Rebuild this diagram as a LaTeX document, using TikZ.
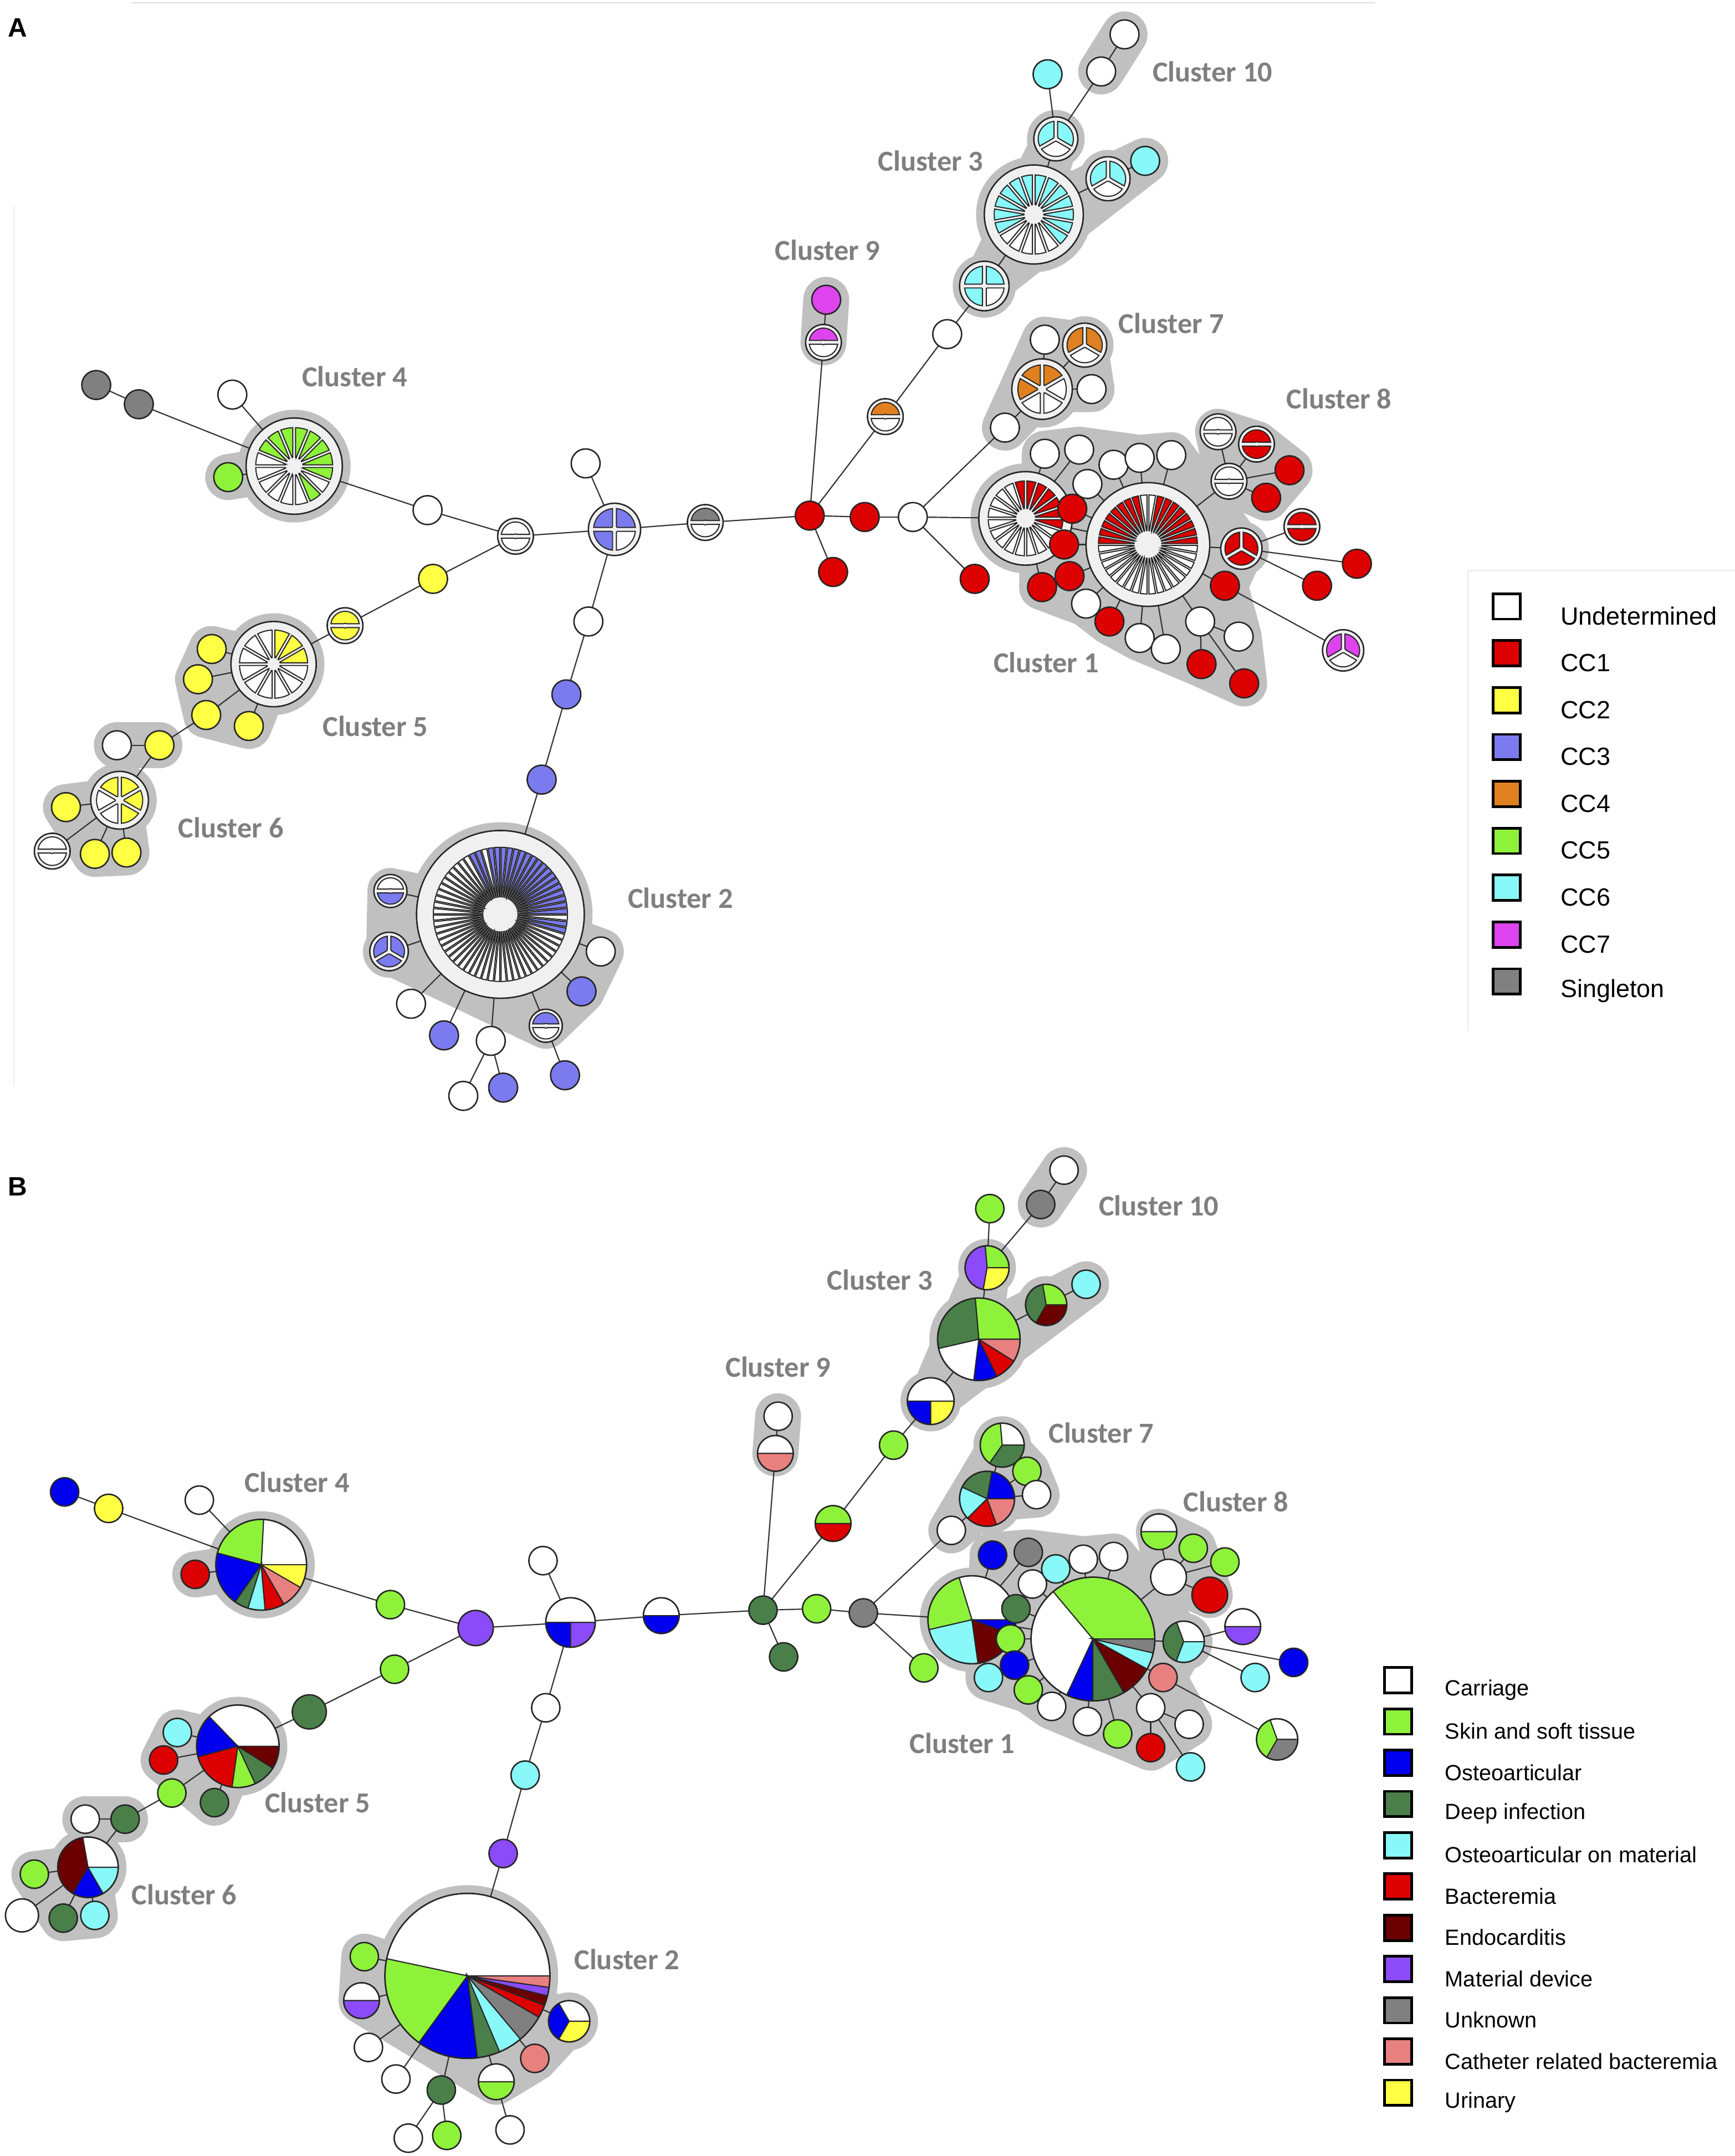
\documentclass[tikz,border=0pt]{standalone}
\usepackage{fontspec}
\newfontfamily\labfont{Carlito}
\newfontfamily\legfont{Liberation Sans}
\usetikzlibrary{calc}

% colours, panel A (clonal complexes)
\definecolor{cc1}{RGB}{221,0,0}
\definecolor{cc2}{RGB}{255,255,68}
\definecolor{cc3}{RGB}{123,123,239}
\definecolor{cc4}{RGB}{224,128,32}
\definecolor{cc5}{RGB}{142,242,58}
\definecolor{cc6}{RGB}{136,248,248}
\definecolor{cc7}{RGB}{221,68,238}
\definecolor{cc8}{RGB}{128,128,128}
% colours, panel B (clinical origin)
\definecolor{skin}{RGB}{142,242,58}
\definecolor{osteo}{RGB}{0,0,238}
\definecolor{deep}{RGB}{74,127,74}
\definecolor{omat}{RGB}{136,248,248}
\definecolor{bact}{RGB}{221,0,0}
\definecolor{endo}{RGB}{107,0,0}
\definecolor{mdev}{RGB}{139,75,248}
\definecolor{unkn}{RGB}{128,128,128}
\definecolor{cath}{RGB}{232,128,128}
\definecolor{urin}{RGB}{255,255,68}
% greys
\definecolor{haloc}{RGB}{192,192,192}
\definecolor{ringc}{RGB}{240,240,240}
\definecolor{labgray}{RGB}{127,127,127}

\tikzset{
    nodeline/.style={draw=black!85,line width=0.6pt},
    secline/.style={draw=black!85,line width=0.45pt},
    link/.style={draw=black!80,line width=0.5pt},
    halo/.style={draw=haloc,fill=haloc,line width=19pt,line join=round,line cap=round},
    clab/.style={font={\labfont\bfseries\fontsize{12}{14}\selectfont},text=labgray},
    legtext/.style={font={\legfont\fontsize{9.1}{11}\selectfont},anchor=west},
    legtextA/.style={font={\legfont\fontsize{10.3}{12}\selectfont},anchor=west},
    legbox/.style={draw=black,line width=1.1pt,minimum width=3.9mm,minimum height=3.7mm,inner sep=0pt}
}

% #1 centre, #2 radius, #3 start angle, #4 half gap, #5 hub, #6 colours (clockwise)
\newcommand{\cwheel}[6]{%
    \filldraw[fill=ringc,nodeline] (#1) circle (#2);
    \foreach \cl [count=\k] in {#6} {\xdef\nsec{\k}}
    \begin{scope}[shift={(#1)}]
    \foreach \cl [count=\k] in {#6} {
        \pgfmathsetmacro{\wsp}{360/\nsec}
        \pgfmathsetmacro{\aL}{#3-\k*\wsp}
        \pgfmathsetmacro{\aH}{\aL+\wsp}
        \pgfmathsetmacro{\Ro}{0.8*#2}
        \pgfmathsetmacro{\Ri}{max(#5,1.25*#4/sin(\wsp/2))}
        \pgfmathsetmacro{\dO}{asin(#4/\Ro)}
        \pgfmathsetmacro{\dI}{asin(#4/\Ri)}
        \pgfmathsetmacro{\pA}{\aL+\dI}
        \pgfmathsetmacro{\pB}{\aL+\dO}
        \pgfmathsetmacro{\pC}{\aH-\dO}
        \pgfmathsetmacro{\pD}{\aH-\dI}
        \filldraw[fill=\cl,secline] (\pA:\Ri) -- (\pB:\Ro)
            arc[start angle=\pB,end angle=\pC,radius=\Ro] -- (\pD:\Ri)
            arc[start angle=\pD,end angle=\pA,radius=\Ri] -- cycle;
    }
    \end{scope}}

% #1 centre, #2 radius, #3 colour/from/to
\newcommand{\piechart}[3]{%
    \begin{scope}[shift={(#1)}]
    \foreach \cl/\angA/\angB in {#3} {
        \filldraw[fill=\cl,secline] (0,0) -- (\angA:#2)
            arc[start angle=\angA,end angle=\angB,radius=#2] -- cycle;
    }
    \draw[nodeline] (0,0) circle (#2);
    \end{scope}}

\begin{document}
\begin{tikzpicture}[x=0.2mm,y=0.2mm]
    \fill[white] (0,0) rectangle (1262,-1568);
    \useasboundingbox (0,0) rectangle (1262,-1568);
    \draw[black!12,line width=0.6pt] (95,-2) -- (1000,-2);
    \draw[black!7,line width=0.6pt] (10,-150) -- (10,-790);

    %%%%%%%%%%%%%%%% panel A
    \node[font={\legfont\bfseries\fontsize{11}{13}\selectfont}] (labA) at (13,-20) {A};

    % positions
    \coordinate (aS1) at (70,-280);   \coordinate (aS2) at (101,-294);
    \coordinate (aC4) at (214,-339);  \coordinate (aC4g) at (166,-347);
    \coordinate (aC4w) at (169,-287); \coordinate (aW1) at (311,-371);
    \coordinate (aH1) at (375,-390);  \coordinate (aY1) at (315,-421);
    \coordinate (aH2) at (251,-455);  \coordinate (aC5) at (199,-483);
    \coordinate (aC5a) at (154,-472); \coordinate (aC5b) at (144,-494);
    \coordinate (aC5c) at (150,-520); \coordinate (aC5d) at (181,-528);
    \coordinate (aC6y) at (116,-542); \coordinate (aC6w) at (85,-542);
    \coordinate (aC6) at (87,-582);   \coordinate (aC6a) at (48,-587);
    \coordinate (aC6h) at (38,-619);  \coordinate (aC6b) at (69,-621);
    \coordinate (aC6c) at (92,-620);
    \coordinate (aQ) at (447,-385);   \coordinate (aQu) at (426,-337);
    \coordinate (aQd) at (428,-452);  \coordinate (aB1) at (412,-505);
    \coordinate (aB2) at (394,-567);
    \coordinate (aC2) at (364,-665);  \coordinate (aC2a) at (284,-648);
    \coordinate (aC2b) at (283,-692); \coordinate (aC2c) at (299,-730);
    \coordinate (aC2d) at (323,-753); \coordinate (aC2e) at (357,-757);
    \coordinate (aC2f) at (337,-797); \coordinate (aC2g) at (366,-791);
    \coordinate (aC2h) at (397,-746); \coordinate (aC2i) at (411,-782);
    \coordinate (aC2j) at (423,-721); \coordinate (aC2k) at (437,-692);
    \coordinate (aG) at (513,-380);   \coordinate (aR1) at (589,-375);
    \coordinate (aR2) at (606,-416);  \coordinate (aR3) at (629,-376);
    \coordinate (aJ) at (664,-376);   \coordinate (aR4) at (709,-421);
    \coordinate (aC9h) at (599,-249); \coordinate (aC9m) at (601,-218);
    \coordinate (aO) at (644,-303);   \coordinate (aW2) at (689,-243);
    \coordinate (aC3a) at (716,-208); \coordinate (aC3) at (752,-156);
    \coordinate (aC3b) at (768,-101); \coordinate (aC3c) at (806,-130);
    \coordinate (aC3d) at (833,-117); \coordinate (aC3e) at (762,-54);
    \coordinate (aC10a) at (801,-52); \coordinate (aC10b) at (818,-25);
    \coordinate (aC7w) at (731,-311); \coordinate (aC7) at (758,-283);
    \coordinate (aC7a) at (760,-247); \coordinate (aC7b) at (789,-251);
    \coordinate (aC7c) at (794,-283);
    \coordinate (aC1) at (746,-377);  \coordinate (aC1b) at (835,-396);
    \coordinate (aT1) at (760,-330);  \coordinate (aT2) at (785,-327);
    \coordinate (aT3) at (810,-338);  \coordinate (aT4) at (791,-352);
    \coordinate (aT5) at (829,-333);  \coordinate (aT6) at (852,-331);
    \coordinate (aM1) at (780,-370);  \coordinate (aM2) at (774,-396);
    \coordinate (aM3) at (778,-419);  \coordinate (aM4) at (758,-427);
    \coordinate (aL1) at (790,-439);  \coordinate (aL2) at (807,-452);
    \coordinate (aL3) at (829,-464);  \coordinate (aL4) at (848,-472);
    \coordinate (aL5) at (873,-452);  \coordinate (aL6) at (901,-463);
    \coordinate (aL7) at (874,-483);  \coordinate (aL8) at (905,-497);
    \coordinate (aP1) at (891,-426);  \coordinate (aP2) at (977,-473);
    \coordinate (aK) at (903,-399);   \coordinate (aK1) at (947,-383);
    \coordinate (aK2) at (987,-410);  \coordinate (aK3) at (958,-426);
    \coordinate (aE1) at (886,-314);  \coordinate (aE2) at (914,-323);
    \coordinate (aE3) at (894,-350);  \coordinate (aE4) at (938,-342);
    \coordinate (aE5) at (921,-362);

    % cluster shading
    \foreach \n/\r in {aC4/41,aC5/37,aC6/27,aC2/67,aC3/42,aC3a/23,aC3b/21,aC3c/21,
        aC7/28,aC7b/21,aC1/40,aC1b/51,aK/20,aC2b/19}
        \fill[haloc] (\n) circle (\r);
    \draw[halo] (aC4g) -- (aC4);
    \filldraw[halo] (aC5a) -- (aC5) -- (aC5d) -- (aC5c) -- (aC5b) -- cycle;
    \draw[halo] (aC6w) -- (aC6y);
    \filldraw[halo] (aC6a) -- (aC6) -- (aC6c) -- (aC6b) -- cycle;
    \filldraw[halo] (aC2a) -- (aC2) -- (aC2k) -- (aC2j) -- (aC2h) -- (aC2b) -- cycle;
    \filldraw[halo] (aC3a) -- (aC3b) -- (aC3) -- (aC3d) -- cycle;
    \draw[halo] (aC10a) -- (aC10b);
    \draw[halo] (aC9m) -- (aC9h);
    \filldraw[halo] (aC7w) -- (aC7a) -- (aC7b) -- (aC7c) -- (aC7) -- cycle;
    \filldraw[halo] (aE1) -- (aE2) -- (aE4) -- (aE5) -- (aE3) -- cycle;
    \filldraw[halo] (aT1) -- (aT2) -- (aT5) -- (aT6) -- (aK) -- (aP1) -- (aL6) -- (aL8)
        -- (aL7) -- (aL4) -- (aL3) -- (aL2) -- (aL1) -- (aM4) -- cycle;

    % links
    \foreach \u/\v in {aS1/aS2,aS2/aC4,aC4w/aC4,aC4g/aC4,aC4/aW1,aW1/aH1,aH1/aY1,aY1/aH2,
        aH2/aC5,aC5/aC5a,aC5/aC5b,aC5/aC5c,aC5/aC5d,aC5c/aC6y,aC6y/aC6w,aC6y/aC6,
        aC6/aC6a,aC6/aC6h,aC6/aC6b,aC6/aC6c,aH1/aQ,aQ/aQu,aQ/aQd,aQd/aB1,aB1/aB2,aB2/aC2,
        aC2/aC2a,aC2/aC2b,aC2/aC2c,aC2/aC2d,aC2/aC2e,aC2/aC2h,aC2/aC2j,aC2/aC2k,
        aC2e/aC2f,aC2e/aC2g,aC2h/aC2i,aQ/aG,aG/aR1,aR1/aR2,aR1/aR3,aR1/aC9h,aC9h/aC9m,
        aR1/aO,aO/aW2,aW2/aC3a,aC3a/aC3,aC3/aC3b,aC3/aC3c,aC3c/aC3d,aC3b/aC3e,aC3b/aC10a,
        aC10a/aC10b,aR3/aJ,aJ/aC1,aJ/aC7w,aJ/aR4,aC7w/aC7,aC7/aC7a,aC7/aC7b,aC7/aC7c,
        aC1/aC1b,aC1/aT1,aC1/aT2,aC1/aM4,aC1b/aT3,aC1b/aT4,aC1b/aT5,aC1b/aT6,aC1b/aM1,
        aC1b/aM2,aC1b/aM3,aC1b/aL1,aC1b/aL2,aC1b/aL3,aC1b/aL4,aC1b/aL5,aC1b/aP1,aC1b/aK,
        aC1b/aE3,aL5/aL6,aL5/aL7,aL5/aL8,aP1/aP2,aK/aK1,aK/aK2,aK/aK3,aE3/aE1,aE3/aE2,
        aE3/aE4,aE3/aE5}
        \draw[link] (\u) -- (\v);

    % types
    \cwheel{aC4}{35}{90}{1}{2}{cc5,cc5,cc5,cc5,cc5,white,cc5,white,white,white,white,white,white,cc5,cc5,cc5}
    \cwheel{aC5}{31}{90}{1}{2}{cc2,cc2,cc2,white,white,white,white,white,white,white,white,white}
    \cwheel{aC6}{21}{90}{1.3}{0}{cc2,cc2,cc2,white,white,cc2}
    \cwheel{aC2}{61}{90}{0.5}{12}{cc3,cc3,cc3,cc3,cc3,cc3,cc3,cc3,cc3,cc3,cc3,cc3,cc3,cc3,cc3,cc3,
        white,cc3,cc3,white,white,white,white,white,white,white,white,white,white,
        white,white,white,white,white,white,white,white,white,white,white,white,white,white,white,
        white,white,white,white,white,white,white,white,white,white,white,white,white,white,white,
        cc3,cc3,white,cc3,cc3}
    \cwheel{aC3}{36}{90}{1}{2}{cc6,cc6,cc6,cc6,cc6,cc6,cc6,white,white,white,white,white,cc6,cc6,cc6,cc6,cc6,cc6}
    \cwheel{aC1}{34}{90}{0.9}{2}{cc1,cc1,cc1,cc1,cc1,cc1,white,white,white,white,white,white,white,
        white,white,white,white,white,white,cc1}
    \cwheel{aC1b}{45}{180}{0.7}{2}{cc1,cc1,cc1,cc1,cc1,cc1,cc1,cc1,white,white,cc1,cc1,cc1,cc1,cc1,cc1,cc1,cc1,
        white,white,white,white,white,white,white,white,white,white,white,white,white,white,white,white,white,white}
    \cwheel{aH1}{13}{180}{1.4}{0}{white,white}
    \cwheel{aH2}{13}{180}{1.4}{0}{cc2,cc2}
    \cwheel{aC6h}{13}{180}{1.4}{0}{white,white}
    \cwheel{aQ}{19}{90}{1.4}{0}{cc3,white,cc3,cc3}
    \cwheel{aC2a}{12}{180}{1.4}{0}{white,cc3}
    \cwheel{aC2b}{14}{90}{1.3}{0}{cc3,cc3,cc3}
    \cwheel{aC2h}{12}{180}{1.4}{0}{cc3,white}
    \cwheel{aG}{13}{180}{1.4}{0}{cc8,white}
    \cwheel{aC9h}{13}{180}{1.4}{0}{cc7,white}
    \cwheel{aO}{13}{180}{1.4}{0}{cc4,white}
    \cwheel{aC3a}{18}{90}{1.4}{0}{cc6,white,cc6,cc6}
    \cwheel{aC3b}{16}{90}{1.3}{0}{cc6,white,cc6}
    \cwheel{aC3c}{16}{90}{1.3}{0}{cc6,white,cc6}
    \cwheel{aC7}{22}{90}{1.3}{0}{cc4,white,white,white,cc4,cc4}
    \cwheel{aC7b}{16}{90}{1.3}{0}{cc4,white,cc4}
    \cwheel{aP2}{15}{90}{1.3}{0}{cc7,white,cc7}
    \cwheel{aK}{15}{90}{1.3}{0}{cc1,cc1,cc1}
    \cwheel{aK1}{13}{180}{1.4}{0}{cc1,cc1}
    \cwheel{aE1}{13}{180}{1.4}{0}{white,white}
    \cwheel{aE2}{13}{180}{1.4}{0}{cc1,cc1}
    \cwheel{aE3}{13}{180}{1.4}{0}{white,white}
    \foreach \n/\cl in {aS1/cc8,aS2/cc8,aC4g/cc5,aC4w/white,aW1/white,aY1/cc2,aC5a/cc2,aC5b/cc2,
        aC5c/cc2,aC5d/cc2,aC6y/cc2,aC6w/white,aC6a/cc2,aC6b/cc2,aC6c/cc2,aQu/white,aQd/white,
        aB1/cc3,aB2/cc3,aC2c/white,aC2d/cc3,aC2e/white,aC2f/white,aC2g/cc3,aC2i/cc3,aC2j/cc3,
        aC2k/white,aR1/cc1,aR2/cc1,aR3/cc1,aJ/white,aR4/cc1,aC9m/cc7,aW2/white,aC3d/cc6,
        aC3e/cc6,aC10a/white,aC10b/white,aC7w/white,aC7a/white,aC7c/white,aT1/white,aT2/white,
        aT3/white,aT4/white,aT5/white,aT6/white,aM1/cc1,aM2/cc1,aM3/cc1,aM4/cc1,aL1/white,
        aL2/cc1,aL3/white,aL4/white,aL5/white,aL6/white,aL7/cc1,aL8/cc1,aP1/cc1,aK2/cc1,
        aK3/cc1,aE4/cc1,aE5/cc1}
        \filldraw[fill=\cl,nodeline] (\n) circle (10.5);

    % cluster names
    \node[clab] (aN4) at (258,-274) {Cluster 4};
    \node[clab] (aN5) at (273,-528) {Cluster 5};
    \node[clab] (aN6) at (168,-602) {Cluster 6};
    \node[clab] (aN2) at (495,-653) {Cluster 2};
    \node[clab] (aN9) at (602,-182) {Cluster 9};
    \node[clab] (aN3) at (677,-117) {Cluster 3};
    \node[clab] (aN10) at (882,-52) {Cluster 10};
    \node[clab] (aN7) at (852,-235) {Cluster 7};
    \node[clab] (aN8) at (974,-290) {Cluster 8};
    \node[clab] (aN1) at (761,-482) {Cluster 1};

    % legend A
    \draw[black!6,line width=0.6pt] (1068,-750) |- (1262,-415);
    \foreach \cl/\txt [count=\i from 0] in {white/Undetermined,cc1/CC1,cc2/CC2,cc3/CC3,
        cc4/CC4,cc5/CC5,cc6/CC6,cc7/CC7,cc8/Singleton} {
        \node[legbox,fill=\cl] (aK\i) at (1096,-441-34.1*\i) {};
        \node[legtextA] (aX\i) at (1129,-448-34.1*\i) {\txt};
    }

    %%%%%%%%%%%%%%%% panel B
    \node[font={\legfont\bfseries\fontsize{11}{13}\selectfont}] (labB) at (13,-863) {B};

    \coordinate (bS1) at (47,-1085);  \coordinate (bS2) at (79,-1097);
    \coordinate (bC4) at (190,-1138); \coordinate (bC4w) at (145,-1091);
    \coordinate (bC4r) at (142,-1145);\coordinate (bG1) at (284,-1167);
    \coordinate (bP) at (346,-1184);  \coordinate (bG2) at (287,-1214);
    \coordinate (bD1) at (225,-1245); \coordinate (bC5) at (173,-1270);
    \coordinate (bC5a) at (129,-1260);\coordinate (bC5b) at (119,-1280);
    \coordinate (bC5c) at (125,-1304);\coordinate (bC5d) at (156,-1311);
    \coordinate (bC6d) at (91,-1323); \coordinate (bC6w) at (62,-1323);
    \coordinate (bC6) at (64,-1358);  \coordinate (bC6a) at (25,-1363);
    \coordinate (bC6b) at (16,-1393); \coordinate (bC6c) at (46,-1395);
    \coordinate (bC6e) at (69,-1393);
    \coordinate (bQ) at (415,-1180);  \coordinate (bQu) at (395,-1135);
    \coordinate (bQd) at (397,-1242); \coordinate (bQc) at (382,-1291);
    \coordinate (bQp) at (366,-1348);
    \coordinate (bC2) at (340,-1437); \coordinate (bC2a) at (265,-1423);
    \coordinate (bC2b) at (263,-1455);\coordinate (bC2c) at (268,-1489);
    \coordinate (bC2d) at (288,-1512);\coordinate (bC2e) at (321,-1520);
    \coordinate (bC2f) at (297,-1555);\coordinate (bC2g) at (325,-1553);
    \coordinate (bC2h) at (361,-1514);\coordinate (bC2i) at (371,-1549);
    \coordinate (bC2j) at (389,-1497);\coordinate (bC2k) at (414,-1470);
    \coordinate (bH) at (481,-1175);  \coordinate (bJ) at (555,-1171);
    \coordinate (bJd) at (570,-1205); \coordinate (bC9h) at (564,-1057);
    \coordinate (bC9w) at (566,-1030);\coordinate (bGR) at (606,-1108);
    \coordinate (bG3) at (650,-1051); \coordinate (bC3a) at (677,-1019);
    \coordinate (bC3) at (712,-974);  \coordinate (bC3b) at (718,-922);
    \coordinate (bC3c) at (720,-879); \coordinate (bC10g) at (757,-876);
    \coordinate (bC10w) at (774,-851);\coordinate (bC3d) at (761,-949);
    \coordinate (bC3e) at (790,-934); \coordinate (bG4) at (594,-1170);
    \coordinate (bK) at (628,-1173);  \coordinate (bC7w) at (692,-1113);
    \coordinate (bC7) at (718,-1090); \coordinate (bC7a) at (729,-1051);
    \coordinate (bC7b) at (747,-1070);\coordinate (bC7c) at (754,-1087);
    \coordinate (bG5) at (672,-1213);
    \coordinate (bC1) at (707,-1178); \coordinate (bC1b) at (795,-1192);
    \coordinate (bT1) at (722,-1131); \coordinate (bT2) at (748,-1129);
    \coordinate (bT3) at (751,-1152); \coordinate (bT4) at (768,-1141);
    \coordinate (bT5) at (788,-1134); \coordinate (bT6) at (810,-1132);
    \coordinate (bM1) at (739,-1170); \coordinate (bM2) at (735,-1192);
    \coordinate (bM3) at (738,-1211); \coordinate (bM4) at (719,-1220);
    \coordinate (bM5) at (748,-1229);
    \coordinate (bL1) at (765,-1241); \coordinate (bL2) at (791,-1252);
    \coordinate (bL3) at (813,-1261); \coordinate (bL4) at (837,-1242);
    \coordinate (bL5) at (865,-1254); \coordinate (bL6) at (837,-1271);
    \coordinate (bL7) at (866,-1285);
    \coordinate (bP1) at (846,-1220); \coordinate (bP2) at (929,-1265);
    \coordinate (bK3) at (861,-1194); \coordinate (bK4) at (904,-1183);
    \coordinate (bK5) at (941,-1209); \coordinate (bK6) at (913,-1220);
    \coordinate (bE1) at (843,-1114); \coordinate (bE2) at (850,-1147);
    \coordinate (bE3) at (868,-1126); \coordinate (bE4) at (891,-1136);
    \coordinate (bE5) at (880,-1160);

    % cluster shading
    \foreach \n/\r in {bC4/39,bC5/36,bC6/28,bC2/66,bC3/36,bC7/26,bC1/38,bC1b/51,
        bC3a/22,bC3b/21,bC3d/21,bC2k/21,bC7a/21,bK3/21}
        \fill[haloc] (\n) circle (\r);
    \draw[halo] (bC4r) -- (bC4);
    \filldraw[halo] (bC5a) -- (bC5) -- (bC5d) -- (bC5b) -- cycle;
    \draw[halo] (bC6w) -- (bC6d);
    \filldraw[halo] (bC6a) -- (bC6) -- (bC6e) -- (bC6c) -- cycle;
    \filldraw[halo] (bC2a) -- (bC2k) -- (bC2j) -- (bC2h) -- (bC2b) -- cycle;
    \filldraw[halo] (bC3a) -- (bC3b) -- (bC3) -- (bC3e) -- cycle;
    \draw[halo] (bC10g) -- (bC10w);
    \draw[halo] (bC9w) -- (bC9h);
    \filldraw[halo] (bC7w) -- (bC7a) -- (bC7b) -- (bC7c) -- (bC7) -- cycle;
    \filldraw[halo] (bE1) -- (bE3) -- (bE5) -- (bE2) -- cycle;
    \filldraw[halo] (bT1) -- (bT2) -- (bT5) -- (bT6) -- (bK3) -- (bP1) -- (bL5) -- (bL6)
        -- (bL3) -- (bL2) -- (bL1) -- (bM5) -- (bM4) -- cycle;

    % links
    \foreach \u/\v in {bS1/bS2,bS2/bC4,bC4w/bC4,bC4r/bC4,bC4/bG1,bG1/bP,bP/bG2,bG2/bD1,
        bD1/bC5,bC5/bC5a,bC5/bC5b,bC5/bC5c,bC5/bC5d,bC5c/bC6d,bC6d/bC6w,bC6d/bC6,
        bC6/bC6a,bC6/bC6b,bC6/bC6c,bC6/bC6e,bP/bQ,bQ/bQu,bQ/bQd,bQd/bQc,bQc/bQp,bQp/bC2,
        bC2/bC2a,bC2/bC2b,bC2/bC2c,bC2/bC2d,bC2/bC2e,bC2/bC2h,bC2/bC2j,bC2/bC2k,
        bC2e/bC2f,bC2e/bC2g,bC2h/bC2i,bQ/bH,bH/bJ,bJ/bJd,bJ/bC9h,bC9h/bC9w,bJ/bGR,bGR/bG3,
        bG3/bC3a,bC3a/bC3,bC3/bC3b,bC3b/bC3c,bC3b/bC10g,bC10g/bC10w,bC3/bC3d,bC3d/bC3e,
        bJ/bG4,bG4/bK,bK/bC1,bK/bC7w,bK/bG5,bC7w/bC7,bC7/bC7a,bC7/bC7b,bC7/bC7c,
        bC1/bC1b,bC1/bT1,bC1/bT2,bC1/bM4,bC1b/bT3,bC1b/bT4,bC1b/bT5,bC1b/bT6,bC1b/bM1,
        bC1b/bM2,bC1b/bM3,bC1b/bM5,bC1b/bL1,bC1b/bL2,bC1b/bL3,bC1b/bL4,bC1b/bP1,bC1b/bK3,
        bC1b/bE2,bL4/bL5,bL4/bL6,bL4/bL7,bP1/bP2,bK3/bK4,bK3/bK5,bK3/bK6,bE2/bE1,bE2/bE3,
        bE2/bE4,bE2/bE5}
        \draw[link] (\u) -- (\v);

    % origins
    \piechart{bC4}{33}{white/0/87,skin/87/165,osteo/165/235,deep/235/253,omat/253/275,bact/275/300,cath/300/330,urin/330/360}
    \piechart{bC5}{30}{white/0/134,osteo/134/195,bact/195/262,skin/262/295,deep/295/328,endo/328/360}
    \piechart{bC6}{22}{white/0/100,endo/100/240,osteo/240/300,omat/300/360}
    \piechart{bQ}{18}{white/0/180,osteo/180/270,mdev/270/360}
    \piechart{bH}{13}{white/0/180,osteo/180/360}
    \piechart{bC2}{60}{white/0/168,skin/168/234,osteo/234/277,deep/277/293,omat/293/310,unkn/310/330,bact/330/339,endo/339/346,mdev/346/352,cath/352/360}
    \piechart{bC2b}{13}{white/0/180,mdev/180/360}
    \piechart{bC2h}{13}{white/0/180,skin/180/360}
    \piechart{bC2k}{15}{white/0/120,osteo/120/240,urin/240/360}
    \piechart{bC9h}{13}{white/0/180,cath/180/360}
    \piechart{bGR}{13}{skin/0/180,bact/180/360}
    \piechart{bC3a}{17}{white/0/180,osteo/180/270,urin/270/360}
    \piechart{bC3}{30}{skin/0/95,deep/95/193,white/193/263,osteo/263/296,bact/296/328,cath/328/360}
    \piechart{bC3b}{16}{skin/0/95,mdev/95/260,urin/260/360}
    \piechart{bC3d}{15}{skin/0/100,deep/100/240,endo/240/360}
    \piechart{bC7}{20}{osteo/0/80,deep/80/155,omat/155/225,bact/225/290,cath/290/360}
    \piechart{bC7a}{16}{white/0/95,skin/95/235,deep/235/360}
    \piechart{bC1}{32}{white/0/107,skin/107/193,omat/193/278,endo/278/340,osteo/340/360}
    \piechart{bC1b}{45}{skin/0/130,white/130/245,osteo/245/270,deep/270/300,endo/300/331,omat/331/347,unkn/347/360}
    \piechart{bK3}{15}{white/0/110,deep/110/249,omat/249/360}
    \piechart{bK4}{13}{white/0/180,mdev/180/360}
    \piechart{bP2}{15}{white/0/110,skin/110/240,unkn/240/360}
    \piechart{bE1}{13}{white/0/180,skin/180/360}
    \foreach \n/\cl in {bS1/osteo,bS2/urin,bC4w/white,bC4r/bact,bG1/skin,bG2/skin,bC5a/omat,
        bC5b/bact,bC5c/skin,bC5d/deep,bC6d/deep,bC6w/white,bC6a/skin,bC6c/deep,bC6e/omat,
        bQu/white,bQd/white,bQc/omat,bQp/mdev,bC2a/skin,bC2c/white,bC2d/white,bC2e/deep,
        bC2f/white,bC2g/skin,bC2i/white,bC2j/cath,bJ/deep,bJd/deep,bC9w/white,bG3/skin,
        bC3c/skin,bC10g/unkn,bC10w/white,bC3e/omat,bG4/skin,bK/unkn,bC7w/white,bC7b/skin,
        bC7c/white,bG5/skin,bT1/osteo,bT2/unkn,bT3/white,bT4/omat,bT5/white,bT6/white,
        bM1/deep,bM2/skin,bM3/osteo,bM4/omat,bM5/skin,bL1/white,bL2/white,bL3/skin,
        bL4/white,bL5/white,bL6/bact,bL7/omat,bP1/cath,bK5/osteo,bK6/omat,bE3/skin,bE4/skin}
        \filldraw[fill=\cl,nodeline] (\n) circle (10.3);
    \foreach \n/\cl/\r in {bP/mdev/12.8,bD1/deep/12.4,bC6b/white/12,bE2/white/13,bE5/bact/13}
        \filldraw[fill=\cl,nodeline] (\n) circle (\r);

    % cluster names
    \node[clab] (bN10) at (843,-877) {Cluster 10};
    \node[clab] (bN3) at (640,-931) {Cluster 3};
    \node[clab] (bN9) at (566,-994) {Cluster 9};
    \node[clab] (bN7) at (801,-1042) {Cluster 7};
    \node[clab] (bN8) at (899,-1092) {Cluster 8};
    \node[clab] (bN4) at (216,-1078) {Cluster 4};
    \node[clab] (bN5) at (231,-1311) {Cluster 5};
    \node[clab] (bN6) at (134,-1378) {Cluster 6};
    \node[clab] (bN1) at (700,-1268) {Cluster 1};
    \node[clab] (bN2) at (456,-1425) {Cluster 2};

    % legend B
    \foreach \cl/\txt [count=\i from 0] in {white/Carriage,skin/Skin and soft tissue,
        osteo/Osteoarticular,deep/Deep infection,omat/Osteoarticular on material,
        bact/Bacteremia,endo/Endocarditis,mdev/Material device,unkn/Unknown,
        cath/Catheter related bacteremia,urin/Urinary} {
        \node[legbox,fill=\cl] (bK\i) at (1017,-1222-30*\i) {};
        \node[legtext] (bX\i) at (1045,-1229-30*\i) {\txt};
    }
\end{tikzpicture}
\end{document}
